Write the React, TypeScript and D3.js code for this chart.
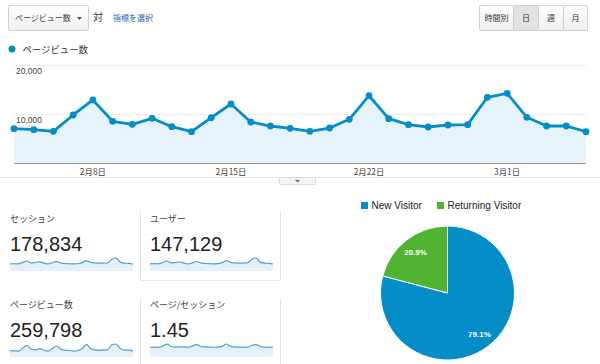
import * as React from 'react';
import * as d3 from 'd3';

// daily page views, 2015-02-04 .. 2015-03-05
const pageViews = [
  7000, 6800, 6470, 9800, 12860, 8510, 7900, 9120, 7410, 6390,
  9240, 12040, 8370, 7550, 7080, 6470, 7140, 8920, 13730, 9040,
  7820, 7350, 7760, 7820, 13410, 14220, 9330, 7550, 7550, 6390,
];
const sessions = [
  5200, 5300, 5200, 6300, 7300, 5900, 6200, 6600, 5700, 5100,
  6000, 6900, 5900, 5400, 5300, 5200, 5300, 6100, 7600, 6300,
  6000, 5700, 5800, 6000, 8600, 9500, 6500, 5700, 5600, 5100,
];
const users = [
  4300, 4400, 4300, 5200, 6000, 4900, 5100, 5400, 4700, 4200,
  4900, 5700, 4900, 4500, 4400, 4300, 4400, 5000, 6200, 5200,
  4900, 4700, 4800, 4900, 7000, 7800, 5300, 4700, 4600, 4200,
];
const pagesPerSession = [
  1.32, 1.31, 1.30, 1.48, 1.74, 1.42, 1.34, 1.38, 1.36, 1.32,
  1.50, 1.70, 1.42, 1.36, 1.33, 1.32, 1.33, 1.44, 1.76, 1.43,
  1.35, 1.33, 1.34, 1.33, 1.56, 1.68, 1.42, 1.34, 1.33, 1.32,
];

const yTicks = [10000, 20000];
const rangeButtons = ['時間別', '日', '週', '月'];
const selectedButton = '日';

const statLabels = ['セッション', 'ユーザー', 'ページビュー数', 'ページ/セッション'];
const statValues = ['178,834', '147,129', '259,798', '1.45'];
const statSeries = [sessions, users, pageViews, pagesPerSession];

const visitorTypes = ['New Visitor', 'Returning Visitor'];
const visitorShares = [79.1, 20.9];
const visitorColors = ['#058dc7', '#50b432'];

const days = d3.timeDay.range(new Date(2015, 1, 4), new Date(2015, 2, 6));

const FONT = '"Liberation Sans", "Noto Sans CJK JP", sans-serif';
const JP = '"Noto Sans CJK JP", "Liberation Sans", sans-serif';

function Sparkline({ data, x0, x1, top, bottom }) {
  const x = d3.scaleLinear().domain([0, data.length - 1]).range([x0, x1]);
  const y = d3.scaleLinear().domain([0, d3.max(data)]).range([bottom, top]);
  const line = d3.line<number>().x((d, i) => x(i)).y(d => y(d)).curve(d3.curveMonotoneX);
  const area = d3.area<number>().x((d, i) => x(i)).y0(bottom).y1(d => y(d)).curve(d3.curveMonotoneX);
  return (
    <g>
      <path d={area(data)} fill="#e4f0fa" />
      <path d={line(data)} fill="none" stroke="#4f9fd2" strokeWidth={1.2} />
    </g>
  );
}

export default function App() {
  React.useEffect(() => {
    document.body.style.margin = '0';
  }, []);

  const W = 600, H = 364;
  const x = d3.scaleTime().domain([days[0], days[days.length - 1]]).range([14, 586]);
  const y = d3.scaleLinear().domain([0, 20000]).range([163, 65]);
  const xTicks = d3.timeWeek.range(days[0], days[days.length - 1]);

  const line = d3.line<number>().x((d, i) => x(days[i])).y(d => y(d));
  const area = d3.area<number>().x((d, i) => x(days[i])).y0(y(0)).y1(d => y(d));

  const pie = d3.pie<number>().sort(null)(visitorShares);
  const R = 67;
  const cx = 447.5, cy = 293;
  const arc = d3.arc<any>().innerRadius(0).outerRadius(R);
  const labelArc = d3.arc<any>().innerRadius(R * 0.78).outerRadius(R * 0.78);

  // button group
  const btnW = [34, 25, 25, 24];
  const btnX = [479];
  btnW.forEach((w, i) => btnX.push(btnX[i] + w));

  const statPos = [
    { x: 10, label: 219, value: 251, top: 258, bottom: 271 },
    { x: 150, label: 219, value: 251, top: 258, bottom: 271 },
    { x: 10, label: 305, value: 337, top: 344, bottom: 357 },
    { x: 150, label: 305, value: 337, top: 344, bottom: 357 },
  ];

  return (
    <svg width={W} height={H} style={{ display: 'block', background: '#fff' }}>
      <defs>
        <linearGradient id="btn" x1="0" y1="0" x2="0" y2="1">
          <stop offset="0" stopColor="#fefefe" />
          <stop offset="1" stopColor="#f0f0f0" />
        </linearGradient>
      </defs>

      {/* metric dropdown */}
      <rect x={8.5} y={5.5} width={80} height={25} rx={2} fill="url(#btn)" stroke="#d0d0d0" />
      <text x={15} y={21} fontFamily={JP} fontSize={8} fill="#444">ページビュー数</text>
      <path d="M77,17 L82,17 L79.5,20 Z" fill="#555" />
      <text x={93} y={20.5} fontFamily={JP} fontSize={10} fill="#333">対</text>
      <text x={113} y={20.5} fontFamily={JP} fontSize={8} fill="#2a5ca8">指標を選択</text>

      {/* range buttons */}
      {rangeButtons.map((b, i) => (
        <g key={b}>
          <rect x={btnX[i] + 0.5} y={5.5} width={btnW[i]} height={25}
            fill={b === selectedButton ? '#e2e2e2' : 'url(#btn)'} stroke="#d0d0d0" rx={1.5} />
          <text x={btnX[i] + btnW[i] / 2 + 0.5} y={21} textAnchor="middle" fontFamily={JP}
            fontSize={8} fill="#333">{b}</text>
        </g>
      ))}

      {/* legend */}
      <circle cx={12} cy={49} r={3.5} fill="#058dc7" />
      <text x={22.5} y={52.5} fontFamily={JP} fontSize={9.4} fill="#333">ページビュー数</text>

      {/* main chart */}
      {yTicks.map(t => (
        <g key={t}>
          <line x1={14} x2={586} y1={y(t) + 0.5} y2={y(t) + 0.5} stroke="#ececec" />
          <text x={16} y={y(t) + 9} fontFamily={FONT} fontSize={8.5} fill="#444">{d3.format(',')(t)}</text>
        </g>
      ))}
      <path d={area(pageViews)} fill="#e6f3fa" />
      <line x1={14} x2={586} y1={y(0) + 0.5} y2={y(0) + 0.5} stroke="#999" />
      <path d={line(pageViews)} fill="none" stroke="#058dc7" strokeWidth={2.8} strokeLinejoin="round" />
      {pageViews.map((v, i) => (
        <circle key={i} cx={x(days[i])} cy={y(v)} r={3.4} fill="#058dc7" />
      ))}
      {xTicks.map(d => (
        <text key={+d} x={x(d)} y={175} textAnchor="middle" fontFamily={JP} fontSize={8.4} fill="#444">
          {`${d.getMonth() + 1}月${d.getDate()}日`}
        </text>
      ))}
      <line x1={0} x2={600} y1={177.5} y2={177.5} stroke="#e6e6e6" />
      <rect x={279.5} y={177.5} width={36} height={7} fill="#f4f4f4" stroke="#dcdcdc" rx={1} />
      <path d="M295,180 L300,180 L297.5,182.5 Z" fill="#666" />

      {/* stat boxes */}
      <line x1={140.5} x2={140.5} y1={212} y2={280} stroke="#e3e3e3" />
      <line x1={280.5} x2={280.5} y1={212} y2={280} stroke="#e3e3e3" />
      <line x1={140} x2={281} y1={280.5} y2={280.5} stroke="#ececec" />
      <line x1={140.5} x2={140.5} y1={298} y2={364} stroke="#e3e3e3" />
      <line x1={280.5} x2={280.5} y1={298} y2={364} stroke="#e3e3e3" />
      {statLabels.map((l, i) => {
        const p = statPos[i];
        return (
          <g key={l}>
            <text x={p.x} y={p.label + 3} fontFamily={JP} fontSize={9} fill="#444">{l}</text>
            <text x={p.x} y={p.value} fontFamily={FONT} fontSize={20} fill="#222">{statValues[i]}</text>
            <Sparkline data={statSeries[i]} x0={p.x} x1={p.x + 123} top={p.top} bottom={p.bottom} />
          </g>
        );
      })}

      {/* pie legend */}
      <rect x={361} y={202} width={7} height={7} fill={visitorColors[0]} />
      <text x={371.5} y={208.5} fontFamily={FONT} fontSize={10} fill="#222">{visitorTypes[0]}</text>
      <rect x={437} y={202} width={7} height={7} fill={visitorColors[1]} />
      <text x={447.5} y={208.5} fontFamily={FONT} fontSize={10} fill="#222">{visitorTypes[1]}</text>

      {/* pie */}
      <g transform={`translate(${cx},${cy})`}>
        {pie.map((s, i) => (
          <path key={i} d={arc(s)} fill={visitorColors[i]} stroke="#fff" strokeWidth={1} />
        ))}
        {pie.map((s, i) => {
          const [lx, ly] = labelArc.centroid(s);
          return (
            <text key={i} x={lx} y={ly + 3} textAnchor="middle" fontFamily={FONT} fontSize={8}
              fontWeight="bold" fill="#fff">{visitorShares[i].toFixed(1)}%</text>
          );
        })}
      </g>
    </svg>
  );
}
